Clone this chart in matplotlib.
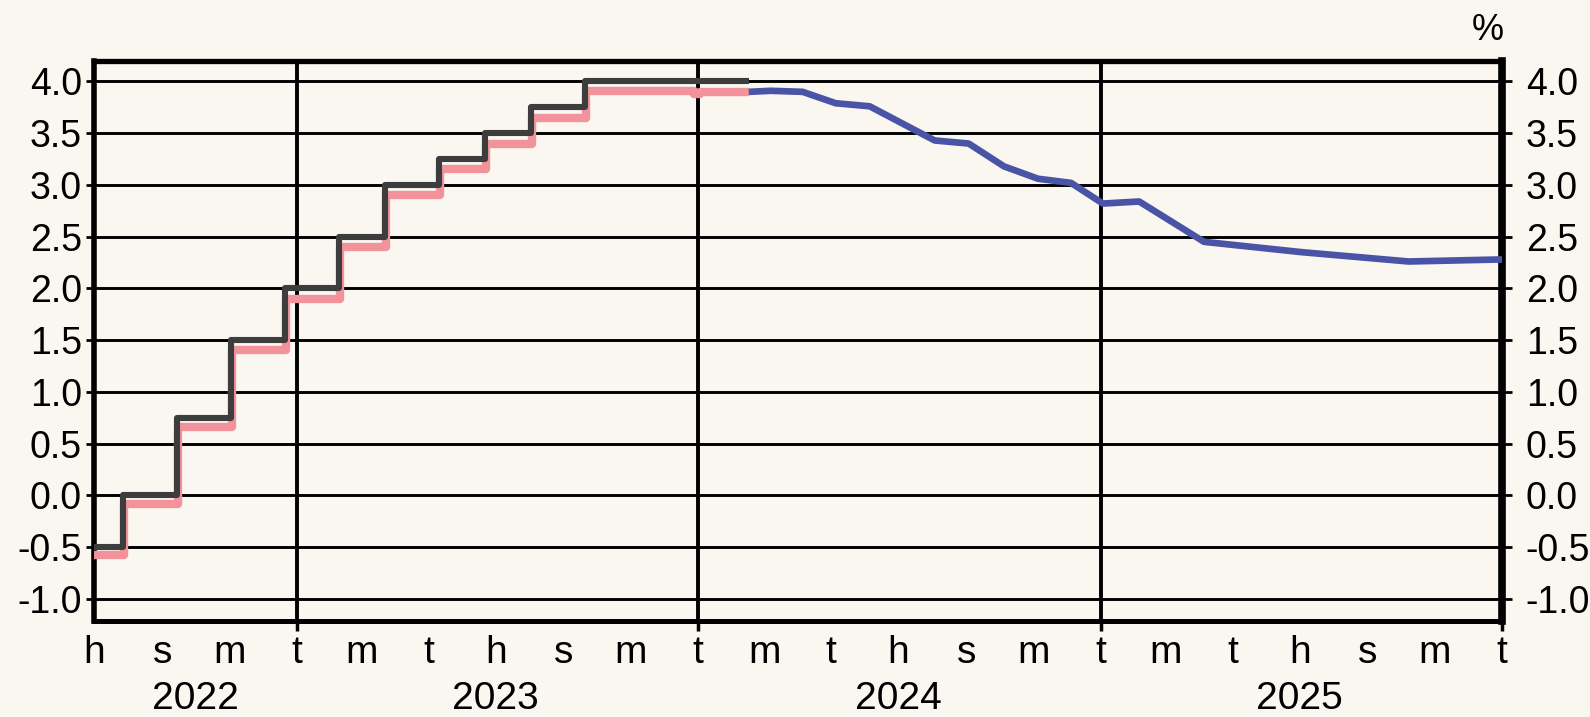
import matplotlib
matplotlib.use('Agg')
import matplotlib.pyplot as plt
import matplotlib.dates as mdates
from matplotlib.ticker import FuncFormatter
import pandas as pd

plt.rcParams['font.family'] = ['Liberation Sans', 'DejaVu Sans']

# ECB deposit rate (step), from change dates
dfr_dates = ['2022-07-01', '2022-07-27', '2022-09-14', '2022-11-02', '2022-12-21',
             '2023-02-08', '2023-03-22', '2023-05-10', '2023-06-21', '2023-08-02',
             '2023-09-20', '2024-02-16']
dfr_vals = [-0.50, 0.00, 0.75, 1.50, 2.00, 2.50, 3.00, 3.25, 3.50, 3.75, 4.00, 4.00]

# EURSTR (step)
estr_dates = ['2022-07-01', '2022-07-28', '2022-09-15', '2022-11-03', '2022-12-22',
              '2023-02-09', '2023-03-23', '2023-05-11', '2023-06-22', '2023-08-03',
              '2023-09-21', '2023-12-28', '2024-01-03', '2024-02-16']
estr_vals = [-0.58, -0.08, 0.66, 1.40, 1.90, 2.40, 2.90, 3.15, 3.40, 3.65,
             3.91, 3.88, 3.90, 3.90]

# market expectations (forward curve)
fwd_dates = ['2024-02-16', '2024-03-07', '2024-04-05', '2024-05-05', '2024-06-05',
             '2024-08-03', '2024-09-03', '2024-10-05', '2024-11-05', '2024-12-05',
             '2025-01-03', '2025-02-05', '2025-04-05', '2025-07-03', '2025-10-08',
             '2026-01-01']
fwd_vals = [3.90, 3.91, 3.90, 3.79, 3.76, 3.43, 3.40, 3.18, 3.06, 3.02,
            2.82, 2.84, 2.45, 2.35, 2.26, 2.28]

y_ticks = [-1.0, -0.5, 0.0, 0.5, 1.0, 1.5, 2.0, 2.5, 3.0, 3.5, 4.0]
month_letters = {1: 't', 3: 'm', 5: 't', 7: 'h', 9: 's', 11: 'm'}
years = ['2022', '2023', '2024', '2025']
year_label_pos = ['2022-10-01', '2023-07-01', '2024-07-01', '2025-07-01']

BG = '#faf6f0'

fig = plt.figure(figsize=(15.9, 7.17), dpi=100, facecolor=BG)
ax = fig.add_axes([0.0594, 0.1332, 0.9447 - 0.0594, 0.9152 - 0.1332])
ax.set_facecolor(BG)

ax.step(pd.to_datetime(estr_dates), estr_vals, where='post', color='#f2939c',
        lw=6, zorder=3, solid_capstyle='butt')
ax.step(pd.to_datetime(dfr_dates), dfr_vals, where='post', color='#3d3d3d',
        lw=4.4, zorder=4, solid_capstyle='butt')
ax.plot(pd.to_datetime(fwd_dates), fwd_vals, color='#4a54a6', lw=4.8, zorder=4,
        solid_capstyle='butt')

ax.set_xlim(pd.Timestamp('2022-07-01'), pd.Timestamp('2026-01-01'))
ax.set_ylim(-1.22, 4.2)

ax.set_yticks(y_ticks)
ax.yaxis.set_major_formatter(FuncFormatter(lambda v, p: '%.1f' % v))

ax.xaxis.set_major_locator(mdates.MonthLocator(bymonth=[1, 3, 5, 7, 9, 11]))
ax.xaxis.set_major_formatter(FuncFormatter(
    lambda v, p: month_letters.get(mdates.num2date(v).month, '')))
ax.xaxis.set_minor_locator(mdates.MonthLocator(bymonth=[1]))
ax.xaxis.remove_overlapping_locs = False

ax.grid(which='major', axis='y', color='black', lw=2.1, zorder=1)
ax.grid(which='minor', axis='x', color='black', lw=2.8, zorder=1)

ax.tick_params(axis='y', which='major', length=6, width=2, labelsize=27, pad=3)
ax.tick_params(axis='x', which='major', length=2.5, width=1.5, labelsize=28, pad=7)
ax.tick_params(axis='x', which='minor', length=7, width=2.5)

ax.spines['top'].set_linewidth(3.8)
ax.spines['left'].set_linewidth(4)
ax.spines['right'].set_linewidth(5.5)
ax.spines['bottom'].set_linewidth(3.6)

ax2 = ax.twinx()
ax2.set_ylim(ax.get_ylim())
ax2.set_yticks(y_ticks)
ax2.yaxis.set_major_formatter(FuncFormatter(lambda v, p: '%.1f' % v))
ax2.tick_params(axis='y', length=7, width=2, labelsize=27, pad=10)
for s in ax2.spines.values():
    s.set_visible(False)

for yl, pos in zip(years, year_label_pos):
    ax.text(pd.Timestamp(pos), -0.139, yl, transform=ax.get_xaxis_transform(),
            ha='center', va='center', fontsize=28)

fig.text(0.936, 0.958, '%', ha='center', va='center', fontsize=26)

fig.savefig('out.png', dpi=100, facecolor=BG)
